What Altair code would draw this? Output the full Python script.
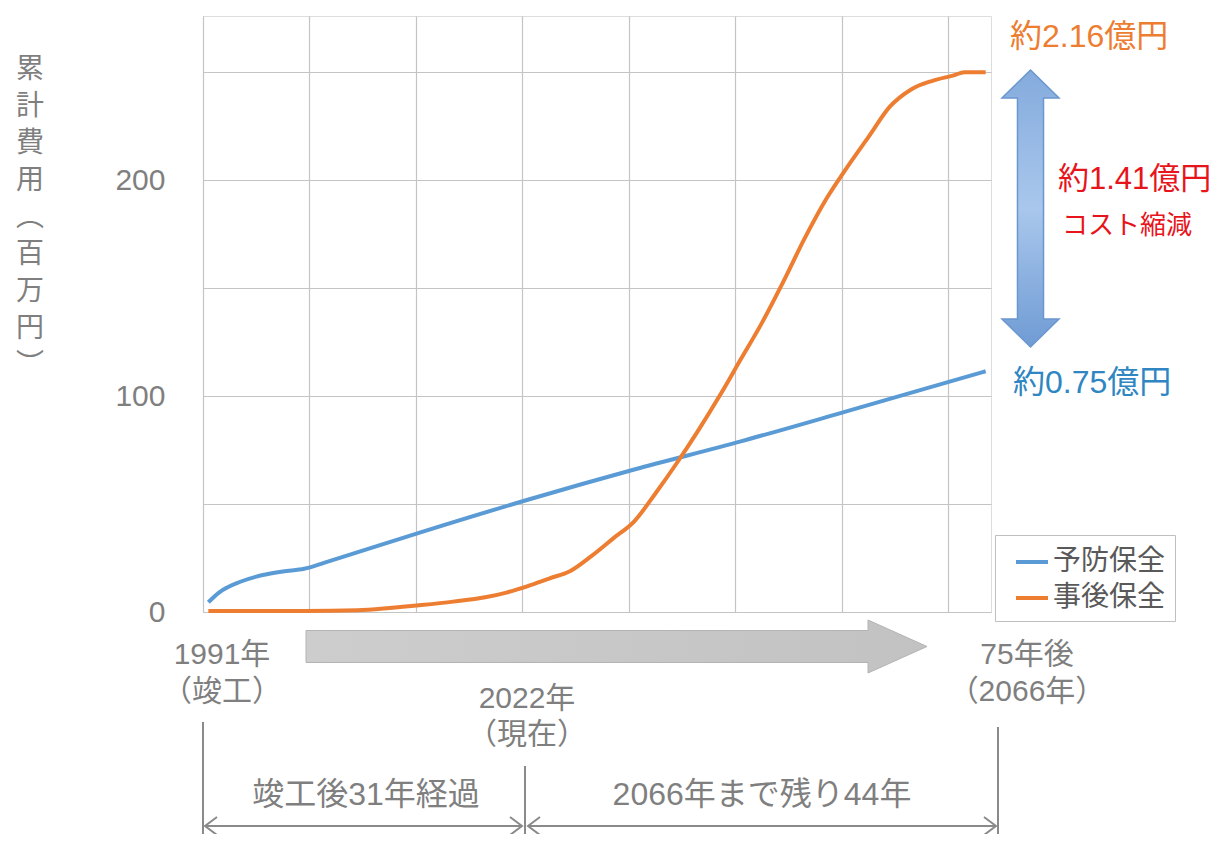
import altair as alt
import pandas as pd

FONT = "Liberation Sans, Noto Sans CJK JP"
CJK = "Noto Sans CJK JP"

# ---- data ----
series_names = ["予防保全", "事後保全"]
series_colors = ["#5b9bd5", "#ed7d31"]

blue_years = [1991, 1992, 1994, 1996, 1998, 2000, 2002, 2011, 2021, 2031, 2041, 2051, 2064]
blue_vals = [4.5, 9, 14, 17, 18.8, 20, 23, 37, 52, 66, 79, 93, 111.5]

orange_years = [1991, 2000, 2005, 2008, 2011, 2014, 2017, 2019, 2021, 2023, 2025, 2027,
                2029, 2031, 2033, 2035, 2037, 2039, 2041, 2043, 2045, 2047, 2049, 2051,
                2053, 2055, 2057, 2059, 2061, 2062, 2064]
orange_vals = [0.5, 0.5, 0.8, 1.8, 3.2, 4.8, 6.8, 9, 12, 15.5, 19, 26,
               34, 42, 55, 69, 84, 100, 117, 134, 153, 173, 191, 206,
               220, 234, 242, 246, 248.5, 250, 250]

y_ticks = [0, 50, 100, 150, 200, 250]
x_grid = [0, 10, 20, 30, 40, 50, 60, 70]

y_title = ["累", "計", "費", "用", "︵", "百", "万", "円", "︶"]

df = pd.concat([
    pd.DataFrame({"year": blue_years, "value": blue_vals, "series": series_names[0]}),
    pd.DataFrame({"year": orange_years, "value": orange_vals, "series": series_names[1]}),
])

W, H = 788, 596

lines = alt.Chart(df).transform_calculate(
    t="datum.year - 1990.5"
).mark_line(strokeWidth=4, interpolate="monotone").encode(
    x=alt.X("t:Q", scale=alt.Scale(domain=[0, 74], nice=False, zero=False),
            axis=alt.Axis(values=x_grid, labels=False, ticks=False, domain=False, title=None,
                          grid=True, gridColor="#c4c4c4", gridWidth=1.2)),
    y=alt.Y("value:Q", scale=alt.Scale(domain=[0, 276], nice=False),
            axis=alt.Axis(values=y_ticks, title=None, ticks=False, domain=False,
                          labelExpr="datum.value % 100 === 0 ? datum.label : ''",
                          labelFontSize=30, labelColor="#7f7f7f", labelFont=FONT,
                          labelPadding=38, grid=True, gridColor="#c4c4c4", gridWidth=1.2)),
    color=alt.Color("series:N", sort=series_names,
                    scale=alt.Scale(domain=series_names, range=series_colors),
                    legend=alt.Legend(title=None, orient="none", legendX=792, legendY=519,
                                      direction="vertical", symbolType="stroke",
                                      symbolSize=1024, symbolStrokeWidth=4,
                                      labelFontSize=28, labelColor="#595959", labelFont=FONT,
                                      padding=9, strokeColor="#bfbfbf", fillColor="white",
                                      rowPadding=4, symbolOffset=10, labelOffset=3)),
    order=alt.Order("year:Q"),
)

one = pd.DataFrame({"a": [0]})


def txt(s, x, y, size, color, align="center", baseline="middle", font=FONT, **kw):
    return alt.Chart(one).mark_text(text=s, fontSize=size, color=color, align=align,
                                    baseline=baseline, font=font, **kw).encode(
        x=alt.value(x), y=alt.value(y))


def rule(x, y, x2=None, y2=None, color="#8a8a8a", w=2):
    enc = dict(x=alt.value(x), y=alt.value(y))
    if x2 is not None:
        enc["x2"] = alt.value(x2)
    if y2 is not None:
        enc["y2"] = alt.value(y2)
    return alt.Chart(one).mark_rule(color=color, strokeWidth=w).encode(**enc)


def sym(path, x, y, size, filled, fill=None, stroke="#8a8a8a", sw=2):
    kw = dict(shape=path, size=size, filled=filled, stroke=stroke, strokeWidth=sw, opacity=1)
    if fill is not None:
        kw["fill"] = fill
        kw["fillOpacity"] = 1
    return alt.Chart(one).mark_point(**kw).encode(x=alt.value(x), y=alt.value(y))


GRAY = "#7f7f7f"

grey_arrow_path = "M -1 -0.0515 L 0.81 -0.0515 L 0.81 -0.0853 L 1 0 L 0.81 0.0853 L 0.81 0.0515 L -1 0.0515 Z"
blue_arrow_path = ("M 0 -1 L 0.206 -0.798 L 0.094 -0.798 L 0.094 0.798 L 0.206 0.798 L 0 1 "
                   "L -0.206 0.798 L -0.094 0.798 L -0.094 -0.798 L -0.206 -0.798 Z")
chev_left = "M 1 -0.75 L 0 0 L 1 0.75"
chev_right = "M -1 -0.75 L 0 0 L -1 0.75"

blue_grad = alt.Gradient(gradient="linear", x1=0, x2=0, y1=0, y2=1, stops=[
    alt.GradientStop(color="#84abdd", offset=0),
    alt.GradientStop(color="#a9c7ec", offset=0.5),
    alt.GradientStop(color="#6f9bd4", offset=1),
])
grey_grad = alt.Gradient(gradient="linear", x1=0, x2=1, y1=0, y2=0, stops=[
    alt.GradientStop(color="#cdcdcd", offset=0),
    alt.GradientStop(color="#c2c2c2", offset=1),
])

layers = [
    lines,
    # y axis title (vertical)
    alt.Chart(one).mark_text(text=y_title, fontSize=28, color=GRAY, align="center",
                             baseline="middle", font=CJK, lineHeight=37).encode(
        x=alt.value(-173), y=alt.value(54)),
    # right-side annotations
    txt("約2.16億円", 807, 21, 32, "#ed7d31", align="left"),
    txt("約1.41億円", 855, 164, 31, "#e8141b", align="left"),
    txt("コスト縮減", 859, 210, 26, "#e8141b", align="left", font=CJK),
    txt("約0.75億円", 810, 367, 32, "#2f86c2", align="left"),
    sym(blue_arrow_path, 827.5, 192.5, 76729, True, fill=blue_grad, stroke="#6a97cf", sw=1.5),
    # grey timeline arrow
    sym(grey_arrow_path, 413.5, 630.5, 385641, True, fill=grey_grad, stroke="#b4b4b4", sw=1),
    # timeline labels (two-line blocks)
    txt(["1991年", "（竣工）"], 19, 639, 30, GRAY, lineHeight=37),
    txt(["2022年", "（現在）"], 324, 683, 30, GRAY, lineHeight=36),
    txt(["75年後", "（2066年）"], 824, 639, 30, GRAY, lineHeight=37),
    # vertical markers
    rule(0, 706, y2=834),
    rule(322, 750, y2=834),
    rule(795, 711, y2=834),
    # horizontal double arrows
    rule(2, 810, x2=319),
    rule(325, 810, x2=793),
    sym(chev_left, 2, 810, 576, False),
    sym(chev_right, 319, 810, 576, False),
    sym(chev_left, 325, 810, 576, False),
    sym(chev_right, 793, 810, 576, False),
    txt("竣工後31年経過", 163, 779, 32, GRAY),
    txt("2066年まで残り44年", 559, 779, 32, GRAY),
]

chart = alt.layer(*layers).properties(
    width=W, height=H,
    autosize=alt.AutoSizeParams(type="none"),
    padding={"left": 195, "top": 8, "right": 229, "bottom": 222},
).configure_view(
    fill="#f2f2f2", stroke="#bfbfbf", strokeWidth=1.5
).configure(background="white")

chart.save("out.html", embed_options={"renderer": "svg", "actions": False})
